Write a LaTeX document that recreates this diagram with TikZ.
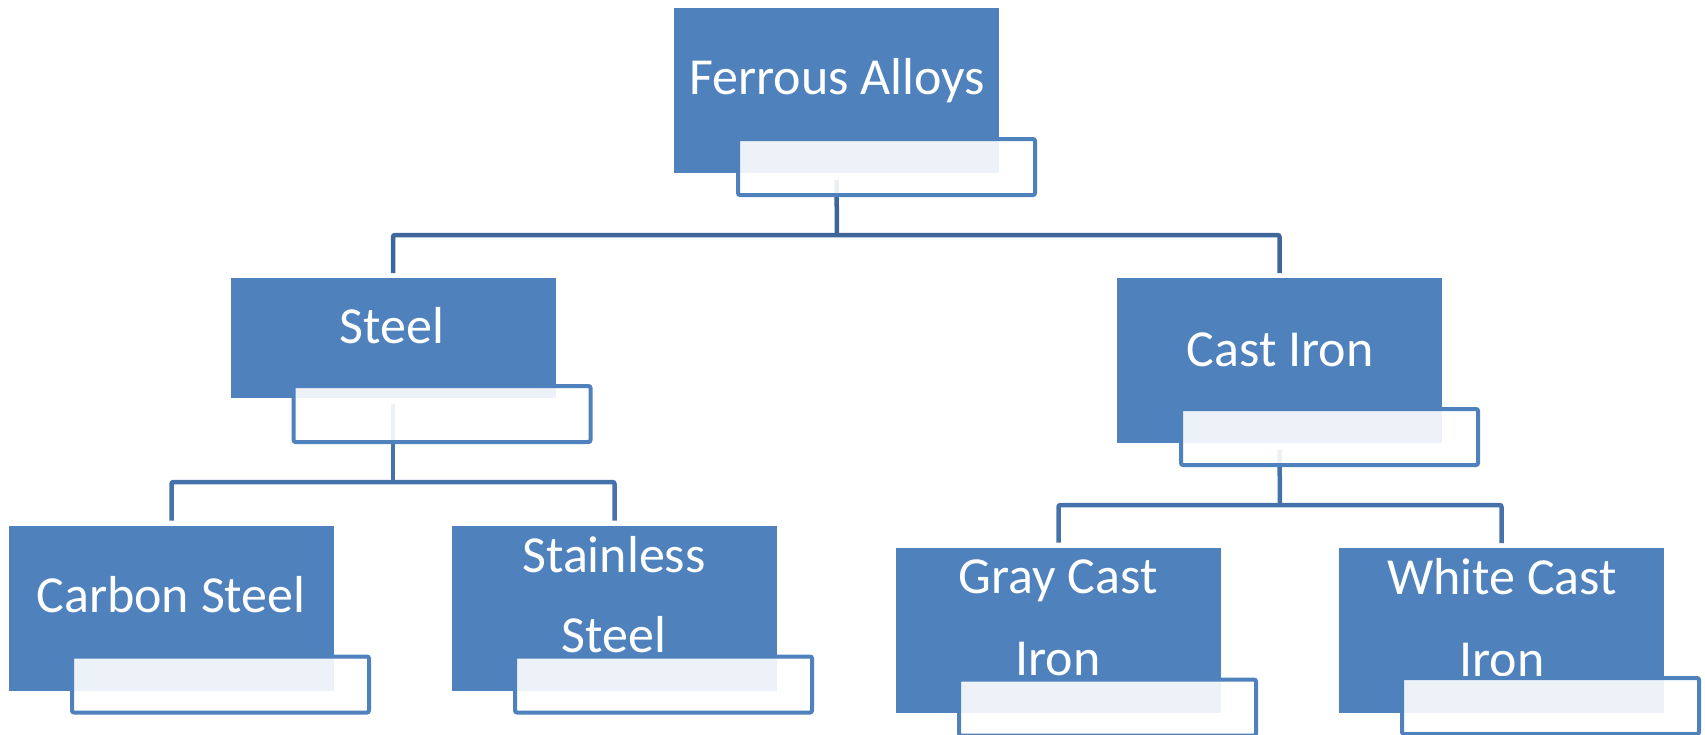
\documentclass[tikz,border=0pt]{standalone}
\usepackage{fontspec}
\setmainfont{Carlito}
\definecolor{boxblue}{HTML}{4F81BD}
\definecolor{topline}{HTML}{3F669B}
\definecolor{subline}{HTML}{4672AC}
\begin{document}
\begin{tikzpicture}[x=1pt,y=-1pt,
  mainbox/.style={rectangle, fill=boxblue, draw=none, inner sep=0pt, outer sep=0pt,
    minimum width=325pt, minimum height=165pt},
  tabbox/.style={rectangle, draw=boxblue, line width=4pt, rounded corners=2pt,
    fill=white, fill opacity=0.9, draw opacity=1, inner sep=0pt, outer sep=0pt,
    minimum width=297pt, minimum height=56pt, anchor=north west},
  lbl/.style={text=white, font=\fontsize{52}{60}\selectfont, inner sep=0pt, anchor=base},
  conn/.style={line width=4.5pt, rounded corners=2pt, line cap=butt},
  topconn/.style={conn, draw=topline},
  subconn/.style={conn, draw=subline}]
\useasboundingbox (0,0) rectangle (1705,734);

% filled boxes
\node[mainbox] (ferrous) at (836.5,90.5) {};
\node[mainbox, minimum height=120pt] (steel) at (393,338) {};
\node[mainbox] (cast) at (1279.5,360.5) {};
\node[mainbox] (carbon) at (171.5,608) {};
\node[mainbox] (stainless) at (614.5,608) {};
\node[mainbox] (gray) at (1058.5,630) {};
\node[mainbox] (white) at (1501.5,630.5) {};

% labels
\node[lbl] (tFerrous) at (837,94) {Ferrous Alloys};
\node[lbl] (tSteel) at (392,343) {Steel};
\node[lbl] (tCast) at (1280,366) {Cast Iron};
\node[lbl] (tCarbon) at (171,612) {Carbon Steel};
\node[lbl] (tStainlessA) at (614,572) {Stainless};
\node[lbl] (tStainlessB) at (614,652) {Steel};
\node[lbl] (tGrayA) at (1058,593) {Gray Cast};
\node[lbl] (tGrayB) at (1058,675) {Iron};
\node[lbl] (tWhiteA) at (1502,594) {White Cast};
\node[lbl] (tWhiteB) at (1502,676) {Iron};

% connectors
\coordinate (barF) at (837,235);
\coordinate (barS) at (393,482);
\coordinate (barC) at (1280,505);
\draw[topconn] ([yshift=-7pt]ferrous.south) -- (barF);
\draw[topconn] (barF) -| ([yshift=5pt]steel.north);
\draw[topconn] (barF) -| ([yshift=5pt]cast.north);
\draw[subconn] ([yshift=-6pt]steel.south) -- (barS);
\draw[subconn] (barS) -| ([yshift=5pt]carbon.north);
\draw[subconn] (barS) -| ([yshift=5pt]stainless.north);
\draw[subconn] ([yshift=-7pt]cast.south) -- (barC);
\draw[subconn] (barC) -| ([yshift=5pt]gray.north);
\draw[subconn] (barC) -| ([yshift=5pt]white.north);

% outlined tabs
\node[tabbox] (ferrousTab) at ([shift={(64,131)}]ferrous.north west) {};
\node[tabbox] (steelTab) at ([shift={(63,108)}]steel.north west) {};
\node[tabbox] (castTab) at ([shift={(64,131)}]cast.north west) {};
\node[tabbox] (carbonTab) at ([shift={(63,131)}]carbon.north west) {};
\node[tabbox] (stainlessTab) at ([shift={(63,131)}]stainless.north west) {};
\node[tabbox] (grayTab) at ([shift={(63,132)}]gray.north west) {};
\node[tabbox] (whiteTab) at ([shift={(63,130)}]white.north west) {};
\end{tikzpicture}
\end{document}
